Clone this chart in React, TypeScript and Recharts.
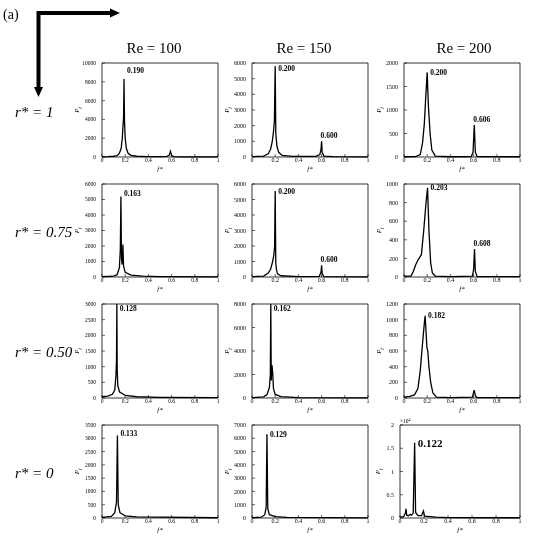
import { LineChart, Line, XAxis, YAxis, ReferenceDot, CartesianGrid } from 'recharts'

type Pt = [number, number]

const FONT = '"Liberation Serif", "Times New Roman", serif'

const reTitles = ['Re = 100', 'Re = 150', 'Re = 200']
const rTitles = ['r* = 1', 'r* = 0.75', 'r* = 0.50', 'r* = 0']
const fTicks = [0, 0.2, 0.4, 0.6, 0.8, 1]

// spectra as [f*, Pf]
const specR1Re100: Pt[] = [
  [0, 20], [0.05, 40], [0.1, 80], [0.13, 150], [0.15, 400], [0.165, 900], [0.175, 2000], [0.182, 3500],
  [0.186, 4200], [0.19, 8300], [0.194, 3800], [0.2, 2000], [0.21, 900], [0.225, 400], [0.25, 180], [0.3, 80],
  [0.4, 40], [0.5, 40], [0.56, 70], [0.58, 200], [0.59, 600], [0.6, 150], [0.62, 50], [0.7, 20], [0.85, 15], [1, 10],
]
const specR1Re150: Pt[] = [
  [0, 20], [0.1, 60], [0.14, 200], [0.16, 500], [0.175, 1000], [0.185, 1600], [0.193, 2300], [0.2, 5800],
  [0.205, 1500], [0.215, 700], [0.23, 300], [0.26, 100], [0.35, 40], [0.55, 40], [0.585, 150], [0.595, 500],
  [0.6, 1000], [0.605, 300], [0.62, 60], [0.7, 20], [1, 10],
]
const specR1Re200: Pt[] = [
  [0, 5], [0.1, 10], [0.14, 50], [0.16, 300], [0.175, 700], [0.188, 1300], [0.2, 1800], [0.21, 1100],
  [0.225, 500], [0.24, 150], [0.27, 20], [0.4, 5], [0.58, 10], [0.595, 100], [0.606, 680], [0.615, 100],
  [0.63, 10], [1, 5],
]
const specR2Re100: Pt[] = [
  [0, 20], [0.1, 50], [0.13, 150], [0.15, 600], [0.158, 1800], [0.163, 5200], [0.168, 1200], [0.174, 800],
  [0.18, 2100], [0.186, 700], [0.2, 300], [0.25, 120], [0.35, 50], [0.5, 30], [0.6, 20], [1, 10],
]
const specR2Re150: Pt[] = [
  [0, 20], [0.1, 60], [0.14, 250], [0.16, 500], [0.175, 900], [0.188, 1400], [0.195, 2000], [0.2, 5550],
  [0.205, 900], [0.21, 500], [0.22, 200], [0.25, 80], [0.4, 30], [0.58, 40], [0.595, 300], [0.6, 750],
  [0.605, 200], [0.62, 30], [1, 10],
]
const specR2Re200: Pt[] = [
  [0, 10], [0.06, 10], [0.08, 60], [0.1, 130], [0.12, 180], [0.15, 240], [0.17, 500], [0.19, 800],
  [0.203, 960], [0.215, 500], [0.23, 150], [0.245, 40], [0.27, 10], [0.4, 5], [0.59, 10], [0.6, 80],
  [0.608, 300], [0.615, 60], [0.63, 5], [1, 5],
]
const specR3Re100: Pt[] = [
  [0, 40], [0.05, 60], [0.09, 120], [0.11, 250], [0.12, 700], [0.125, 1200], [0.128, 3000], [0.131, 900],
  [0.136, 400], [0.15, 200], [0.2, 80], [0.3, 40], [0.5, 20], [1, 10],
]
const specR3Re150: Pt[] = [
  [0, 30], [0.1, 100], [0.13, 300], [0.15, 900], [0.158, 2000], [0.162, 8000], [0.166, 1500], [0.172, 2800],
  [0.178, 2200], [0.185, 800], [0.2, 300], [0.25, 120], [0.4, 40], [1, 10],
]
const specR3Re200: Pt[] = [
  [0, 10], [0.05, 20], [0.09, 40], [0.12, 120], [0.14, 350], [0.16, 700], [0.175, 950], [0.182, 1050],
  [0.19, 850], [0.197, 650], [0.205, 600], [0.215, 400], [0.23, 200], [0.25, 60], [0.28, 10], [0.4, 5],
  [0.59, 10], [0.605, 100], [0.615, 30], [0.63, 5], [1, 5],
]
const specR4Re100: Pt[] = [
  [0, 20], [0.08, 60], [0.11, 200], [0.125, 600], [0.133, 3100], [0.14, 500], [0.155, 200], [0.2, 80],
  [0.3, 40], [1, 10],
]
const specR4Re150: Pt[] = [
  [0, 20], [0.08, 60], [0.11, 250], [0.122, 800], [0.129, 6300], [0.136, 700], [0.15, 250], [0.2, 100],
  [0.3, 40], [1, 10],
]
// in units of 10^4
const specR4Re200: Pt[] = [
  [0, 0.02], [0.03, 0.03], [0.045, 0.1], [0.05, 0.2], [0.056, 0.06], [0.07, 0.05], [0.085, 0.08], [0.095, 0.06],
  [0.11, 0.1], [0.122, 1.62], [0.13, 0.12], [0.15, 0.05], [0.18, 0.05], [0.195, 0.15], [0.205, 0.04],
  [0.25, 0.03], [0.3, 0.02], [0.4, 0.01], [1, 0.005],
]

const yTicksR1 = [
  [0, 2000, 4000, 6000, 8000, 10000],
  [0, 1000, 2000, 3000, 4000, 5000, 6000],
  [0, 500, 1000, 1500, 2000],
]
const yTicksR2 = [
  [0, 1000, 2000, 3000, 4000, 5000, 6000],
  [0, 1000, 2000, 3000, 4000, 5000, 6000],
  [0, 200, 400, 600, 800, 1000],
]
const yTicksR3 = [
  [0, 500, 1000, 1500, 2000, 2500, 3000],
  [0, 2000, 4000, 6000, 8000],
  [0, 200, 400, 600, 800, 1000, 1200],
]
const yTicksR4 = [
  [0, 500, 1000, 1500, 2000, 2500, 3000, 3500],
  [0, 1000, 2000, 3000, 4000, 5000, 6000, 7000],
  [0, 0.5, 1, 1.5, 2],
]

// labelled peaks [f*, Pf]
const peaksR1: Pt[][] = [[[0.19, 8300]], [[0.2, 5800], [0.6, 1000]], [[0.2, 1800], [0.606, 680]]]
const peaksR2: Pt[][] = [[[0.163, 5200]], [[0.2, 5550], [0.6, 750]], [[0.203, 960], [0.608, 300]]]
const peaksR3: Pt[][] = [[[0.128, 3000]], [[0.162, 8000]], [[0.182, 1050]]]
const peaksR4: Pt[][] = [[[0.133, 3100]], [[0.129, 6300]], [[0.122, 1.62]]]

const spectra = [
  [specR1Re100, specR1Re150, specR1Re200],
  [specR2Re100, specR2Re150, specR2Re200],
  [specR3Re100, specR3Re150, specR3Re200],
  [specR4Re100, specR4Re150, specR4Re200],
]
const yTicks = [yTicksR1, yTicksR2, yTicksR3, yTicksR4]
const peaks = [peaksR1, peaksR2, peaksR3, peaksR4]

// layout
const colLeft = [102, 252, 404]
const colWidth = [116, 116, 116]
const rowTop = [63, 184, 304, 425]
const rowHeight = [94, 93, 94, 93]
// label nudges [dx, dy] for the peak labels
const peakShift: number[][][][] = [
  [[[2, -9]], [[2, 2], [-2, -6]], [[2, 0], [-2, -6]]],
  [[[2, -3]], [[2, 0], [-2, -6]], [[2, 0], [-2, -6]]],
  [[[2, 4]], [[2, 4]], [[2, 0]]],
  [[[2, -2]], [[2, 0]], [[2, 0]]],
]

function panelBox(r: number, c: number) {
  if (r === 3 && c === 2) return { x: 400, y: rowTop[r], w: 120, h: rowHeight[r] }
  return { x: colLeft[c], y: rowTop[r], w: colWidth[c], h: rowHeight[r] }
}

const noTick = () => <g />
// frame lines on the top and right edges of the plot area
const frameTop = ({ offset }: any) => [offset.top]
const frameRight = ({ offset }: any) => [offset.left + offset.width]

function Panel({ r, c }: { r: number; c: number }) {
  const { x, y, w, h } = panelBox(r, c)
  const ml = 30
  const mr = 6
  const mt = 6
  const mb = 14
  const rows = spectra[r][c].map(([f, p]) => ({ f, p }))
  const ticks = yTicks[r][c]
  const yMax = ticks[ticks.length - 1]
  const big = r === 3 && c === 2
  const tickStyle = { fontSize: c === 0 ? 5.5 : 6, fill: '#000', fontFamily: FONT }
  const axisLine = { stroke: '#000', strokeWidth: 0.8 }
  const tickLine = { stroke: '#000', strokeWidth: 0.6 }
  return (
    <div style={{ position: 'absolute', left: x - ml, top: y - mt, willChange: 'transform' }}>
      <LineChart
        width={w + ml + mr}
        height={h + mt + mb}
        data={rows}
        margin={{ top: mt, right: mr, bottom: 0, left: 0 }}
      >
        <CartesianGrid
          stroke="#000"
          strokeWidth={0.8}
          horizontalCoordinatesGenerator={frameTop}
          verticalCoordinatesGenerator={frameRight}
        />
        <XAxis
          dataKey="f"
          type="number"
          domain={[0, 1]}
          ticks={fTicks}
          interval={0}
          height={mb}
          tickSize={-3}
          tickMargin={4}
          axisLine={axisLine}
          tickLine={tickLine}
          tick={tickStyle}
        />
        <XAxis
          xAxisId="top"
          orientation="top"
          dataKey="f"
          type="number"
          domain={[0, 1]}
          ticks={fTicks}
          interval={0}
          height={0}
          tickSize={-3}
          axisLine={axisLine}
          tickLine={tickLine}
          tick={noTick}
        />
        <YAxis
          type="number"
          domain={[0, yMax]}
          ticks={ticks}
          interval={0}
          width={ml}
          tickSize={-3}
          tickMargin={9}
          axisLine={axisLine}
          tickLine={tickLine}
          tick={tickStyle}
        />
        <YAxis
          yAxisId="right"
          orientation="right"
          type="number"
          domain={[0, yMax]}
          ticks={ticks}
          interval={0}
          width={0}
          tickSize={-3}
          axisLine={axisLine}
          tickLine={tickLine}
          tick={noTick}
        />
        <Line
          dataKey="p"
          type="linear"
          stroke="#000"
          strokeWidth={1.3}
          dot={false}
          isAnimationActive={false}
        />
        {peaks[r][c].map(([f, p], i) => (
          <ReferenceDot
            key={i}
            x={f}
            y={p}
            r={1}
            fill="none"
            stroke="none"
            label={{
              value: f.toFixed(3),
              position: 'right',
              offset: 0,
              dx: peakShift[r][c][i][0],
              dy: peakShift[r][c][i][1],
              fontSize: big ? 11 : 7.5,
              fontWeight: 700,
              fill: '#000',
              fontFamily: FONT,
            }}
          />
        ))}
      </LineChart>
    </div>
  )
}

const titleX = [154, 304, 464]
const rowLabelY = [117, 237, 357, 478]

export default function App() {
  const cells: { r: number; c: number }[] = []
  for (let r = 0; r < 4; r++) for (let c = 0; c < 3; c++) cells.push({ r, c })
  return (
    <div style={{ position: 'absolute', left: 0, top: 0, width: 550, height: 540, background: '#fff' }}>
      {cells.map(({ r, c }) => (
        <Panel key={`${r}-${c}`} r={r} c={c} />
      ))}
      <svg
        width={550}
        height={540}
        style={{ position: 'absolute', left: 0, top: 0, pointerEvents: 'none' }}
        fontFamily={FONT}
      >
        <text x={3} y={19} fontSize={14}>(a)</text>
        <path d="M38.5 13 L38.5 88 M36.5 13 L111 13" stroke="#000" strokeWidth={4} fill="none" />
        <polygon points="110,8.5 120,13 110,17.5" fill="#000" />
        <polygon points="34,87 38.5,97 43,87" fill="#000" />
        {reTitles.map((t, i) => (
          <text key={t} x={titleX[i]} y={53} fontSize={15} textAnchor="middle">
            {t}
          </text>
        ))}
        {rTitles.map((t, i) => (
          <text key={t} x={15} y={rowLabelY[i]} fontSize={15} fontStyle="italic">
            {t}
          </text>
        ))}
        {cells.map(({ r, c }) => {
          const { x, y, w, h } = panelBox(r, c)
          const gap = r === 3 && c === 2 ? 20 : 23
          return (
            <g key={`lab-${r}-${c}`}>
              <text
                transform={`translate(${x - gap},${y + h / 2}) rotate(-90)`}
                textAnchor="middle"
                fontSize={7}
                fontStyle="italic"
              >
                P<tspan fontSize={5} dy={1.5}>f</tspan>
              </text>
              <text x={x + w / 2} y={y + h + 14} textAnchor="middle" fontSize={7} fontStyle="italic">
                f*
              </text>
            </g>
          )
        })}
        <text x={400} y={423} fontSize={5.5}>
          ×10<tspan fontSize={4} dy={-2}>4</tspan>
        </text>
      </svg>
    </div>
  )
}
